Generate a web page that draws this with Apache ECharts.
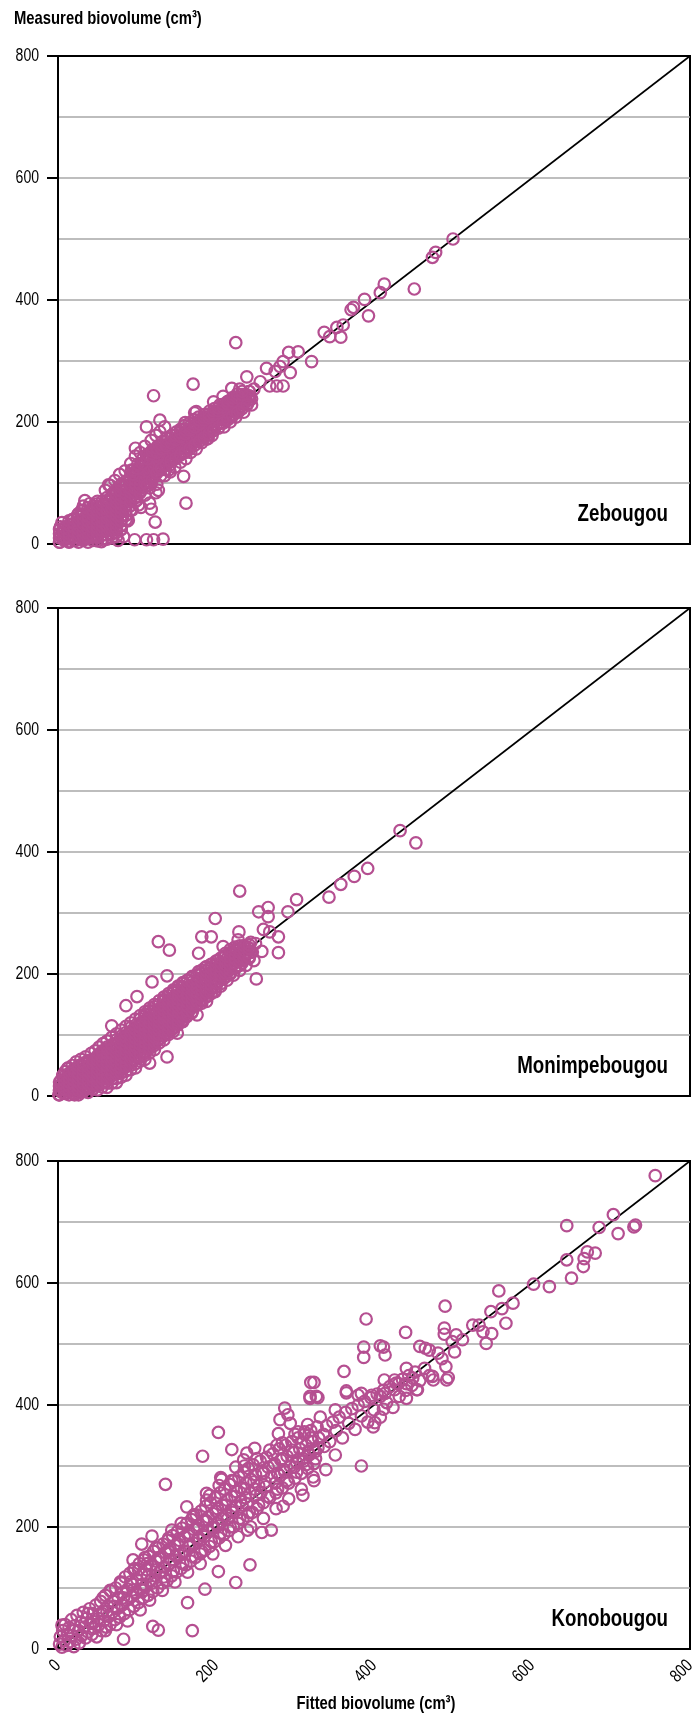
<!DOCTYPE html>
<html>
<head>
<meta charset="utf-8">
<script src="https://cdn.jsdelivr.net/npm/echarts@6/dist/echarts.min.js"></script>
<style>
  html, body { margin: 0; padding: 0; background: #fff; }
  #chart { width: 697px; height: 1715px; }
</style>
</head>
<body>
<div id="chart"></div>
<script>
// Site names, one panel each (top to bottom)
const sites = ['Zebougou', 'Monimpebougou', 'Konobougou'];
// Shared axis range and tick labels (cm³)
const axisTicks = [0, 200, 400, 600, 800];
// 1:1 reference line
const oneToOne = [[0, 0], [800, 800]];

// ---- Zebougou ----
// dense trees near the origin: each row is [fitted, measured, measured, ...]
const zebougouDense = [
  [2,3,10,17,24],[8,6,13,20,27],[14,3,10,17,24,31,38],[20,6,13,20,27,34,41],[26,3,10,17,24,31,38,45,50],
  [32,6,13,20,27,34,41,48,55],[38,3,10,17,24,31,38,45,52,59],[44,6,13,20,27,34,41,48,55,62],
  [50,5,12,19,26,33,40,47,54,61,66],[56,8,15,22,29,36,43,50,57,64,70],[62,8,15,22,29,36,43,50,57,64,71,76],
  [68,10,17,24,31,38,45,52,59,66,73,80],[74,12,19,26,33,40,47,54,61,68,75,82,89],[80,24,31,38,45,52,59,66,73,80,87,94,98],
  [86,40,47,54,61,68,75,82,89,96,103],[92,56,63,70,77,84,91,98,105,110],[98,70,77,84,91,98,105,112,118],
  [104,84,91,98,105,112,119,126],[110,94,101,108,115,122,129,134],[116,102,109,116,123,130,137,140],
  [122,112,119,126,133,140,146],[128,122,129,136,143,150],[134,130,137,144,151,156],[140,136,143,150,157,162],
  [146,142,149,156,163,166],[152,148,155,162,169,172],[158,152,159,166,173,176],[164,158,165,172,179],
  [170,164,171,178,185],[176,170,177,184,190],[182,176,183,190,196],[188,182,189,196,200],[194,188,195,202,206],
  [200,194,201,208,212],[206,198,205,212,216],[212,204,211,218,222],[218,210,217,224,228],[224,218,225,232],
  [230,224,231,238],[236,230,237,244],[242,236,243,250],
  [95,114,121],[101,124,131],[107,132,139],[113,96,140,147],[119,104,148,153],[125,116,150,157],[131,124,156,163],
  [137,130,161,168],[143,136,166,173],[149,140,171,178],[155,146,176,183],[161,150,181,188],[167,156,187,193],
  [173,162,192,198],[179,168,197,203],[185,174,203,208],[191,180,207,213],[197,186,212,218],[203,190,218,223],
  [209,198,224,229],[215,204,229,234],[221,210,234,240],[227,216,240,246],[233,222,245,250],[239,228]
];
// individual trees, [fitted, measured]
const zebougou = [
  [2,3],[4,12],[6,20],[3,28],[8,8],[10,16],[12,24],[5,35],[14,4],[15,32],[16,12],[18,40],[20,20],[22,6],[24,30],[25,48],
  [26,14],[28,38],[30,55],[30,24],[32,62],[33,8],[35,44],[36,18],[38,30],[40,52],[40,66],[42,10],[43,36],[45,24],[46,58],
  [48,44],[50,14],[50,70],[52,32],[54,54],[55,4],[56,22],[58,64],[60,40],[60,8],[62,50],[64,28],[65,72],[66,60],[68,16],
  [70,44],[70,84],[72,34],[74,66],[75,54],[76,6],[78,88],[80,74],[80,24],[82,46],[84,96],[85,62],[86,80],[88,38],[90,70],
  [90,102],[92,90],[94,56],[95,84],[96,110],[98,76],[100,96],[100,120],[102,64],[104,104],[105,88],[106,128],[108,114],
  [110,80],[110,136],[112,100],[114,122],[115,146],[116,92],[118,132],[120,110],[120,152],[122,140],[124,118],[125,98],
  [126,160],[128,130],[130,146],[130,112],[132,168],[134,136],[135,154],[136,122],[138,174],[140,142],[140,160],[142,130],
  [144,178],[145,150],[146,166],[148,140],[150,184],[150,156],[152,170],[154,146],[155,188],[156,162],[158,176],[160,150],
  [160,194],[162,168],[164,182],[165,158],[166,198],[168,174],[170,188],[170,164],[172,204],[174,180],[175,194],[176,170],
  [178,208],[180,186],[182,200],[184,176],[185,212],[186,194],[188,206],[190,184],[192,218],[194,200],[195,212],[196,190],
  [198,222],[200,206],[202,216],[204,198],[205,228],[208,212],[210,222],[212,204],[214,232],[215,218],[218,226],[220,212],
  [222,236],[224,222],[226,230],[228,216],[230,240],[232,226],[235,234],[238,244],[240,230],[242,250],[245,238],[248,254],
  [100,72],[105,60],[118,100],[124,84],[135,112],[142,118],[148,126],[155,134],[162,140],[168,150],[175,156],[182,166],
  [188,172],[195,178],[210,192],[218,200],[225,208],[235,216],[245,228],[60,88],[66,96],[72,104],[78,114],[85,120],
  [92,132],[98,144],[104,150],[110,160],[118,170],[124,178],
  [500,500],[478,478],[474,470],[451,418],[413,426],[408,412],[388,401],[393,374],[374,388],[371,384],[361,359],[353,355],
  [358,339],[344,340],[337,347],[321,299],[304,315],[292,314],[294,281],[285,259],[277,259],[268,259],[285,299],[281,291],
  [264,288],[275,283],[256,266],[239,274],[225,330],[230,254],[220,255],[243,242],[209,242],[197,233],[171,262],[121,243],
  [173,215],[161,199],[129,203],[112,192],[98,157],[93,121],[64,97],[34,71],[159,111],[162,67],[123,36],[127,88],[116,67],
  [118,57],[133,8],[121,7],[112,7],[97,7],[83,12],[89,39],[7,23],[19,28],[140,121],[135,192],[129,184],[157,187],[175,217],
  [188,184],[190,173]
];

// ---- Monimpebougou ----
const monimpebougouDense = [
  [2,2,9,16,23],[8,5,12,19,26,32],[14,2,9,16,23,30,37],[20,5,12,19,26,33,40,44],[26,2,9,16,23,30,37,44,50],
  [32,7,14,21,28,35,42,49,54],[38,6,13,20,27,34,41,48,55,58],[44,11,18,25,32,39,46,53,60],
  [50,10,17,24,31,38,45,52,59,66],[56,15,22,29,36,43,50,57,64,71,74],[62,14,21,28,35,42,49,56,63,70,77,80],
  [68,21,28,35,42,49,56,63,70,77,84],[74,22,29,36,43,50,57,64,71,78,85,92],[80,31,38,45,52,59,66,73,80,87,94,98],
  [86,34,41,48,55,62,69,76,83,90,97,104],[92,43,50,57,64,71,78,85,92,99,106,112],
  [98,46,53,60,67,74,81,88,95,102,109,116],[104,57,64,71,78,85,92,99,106,113,120,126],
  [110,60,67,74,81,88,95,102,109,116,123,130,134],[116,71,78,85,92,99,106,113,120,127,134,140],
  [122,76,83,90,97,104,111,118,125,132,139,146],[128,87,94,101,108,115,122,129,136,143,150],
  [134,92,99,106,113,120,127,134,141,148,155,158],[140,101,108,115,122,129,136,143,150,157,164],
  [146,106,113,120,127,134,141,148,155,162,169,172],[152,117,124,131,138,145,152,159,166,173,178],
  [158,122,129,136,143,150,157,164,171,178,184],[164,133,140,147,154,161,168,175,182,189],
  [170,138,145,152,159,166,173,180,187,194],[176,149,156,163,170,177,184,191,198],
  [182,152,159,166,173,180,187,194,201,206],[188,163,170,177,184,191,198,205,212],
  [194,168,175,182,189,196,203,210,216],[200,179,186,193,200,207,214,221],[206,184,191,198,205,212,219,226],
  [212,195,202,209,216,223,230,234],[218,200,207,214,221,228,235,240],[224,211,218,225,232,239,244],
  [230,214,221,228,235,242,246],[236,225,232,239,246],[242,228,235,242,248]
];
const monimpebougou = [
  [1,2],[2,10],[3,18],[4,26],[5,6],[6,34],[7,14],[8,22],[9,40],[10,4],[11,30],[12,12],[13,46],[14,20],[15,36],[16,8],
  [17,26],[18,50],[19,16],[20,42],[21,2],[22,32],[23,56],[24,12],[25,24],[26,44],[27,6],[28,36],[29,60],[30,18],[31,50],
  [32,28],[33,10],[34,42],[35,64],[36,22],[37,54],[38,34],[39,14],[40,46],
  [42,70],[43,26],[44,58],[45,38],[46,16],[47,74],[48,50],[49,30],[50,62],[51,20],[52,80],[53,42],[54,68],[55,28],[56,54],
  [57,86],[58,36],[59,72],[60,46],[61,24],[62,90],[63,60],[64,38],[65,78],[66,52],[67,32],[68,96],[69,66],[70,44],[71,84],
  [72,58],[73,36],[74,102],[75,72],[76,50],[77,90],[78,64],[79,42],[80,108],[81,78],[82,56],[83,96],[84,70],[85,48],
  [86,114],[87,84],[88,62],[89,102],[90,76],[91,54],[92,120],[93,92],[94,68],[95,108],[96,82],[97,60],[98,126],[99,98],
  [100,74],
  [101,114],[102,88],[103,66],[104,132],[105,104],[106,80],[107,120],[108,94],[109,72],[110,138],[111,110],[112,86],
  [113,126],[114,100],[115,80],[116,144],[117,116],[118,92],[119,132],[120,106],[121,86],[122,150],[123,122],[124,98],
  [125,138],[126,112],[127,92],[128,156],[129,128],[130,104],[131,144],[132,118],[133,98],[134,162],[135,134],[136,110],
  [137,150],[138,124],[139,104],[140,168],[141,140],[142,116],[143,156],[144,130],[145,110],[146,174],[147,146],[148,122],
  [149,162],[150,136],[151,118],[152,180],[153,152],[154,128],[155,168],[156,142],[157,124],[158,186],[159,158],[160,134],
  [161,174],[162,148],[163,130],[164,190],[165,164],[166,140],[167,180],[168,154],[169,136],[170,196],
  [172,170],[174,148],[175,186],[177,160],[178,204],[180,176],[182,156],[183,194],[185,168],[186,210],[188,184],[190,164],
  [191,200],[193,176],[194,216],[196,192],[198,172],[199,206],[201,184],[202,222],[204,198],[206,180],[207,212],[209,192],
  [210,228],[212,206],[214,190],[215,220],[217,200],[218,234],[220,214],[222,198],[223,228],[225,210],[226,240],[228,222],
  [230,206],[231,236],[233,218],[235,246],[237,230],[238,214],[240,244],[242,226],[244,252],[246,236],[248,222],[250,250],
  [433,435],[453,415],[392,373],[375,360],[358,347],[343,326],[302,322],[291,302],[230,336],[266,309],[254,302],[266,294],
  [260,273],[268,269],[279,261],[258,237],[279,235],[251,192],[229,269],[199,291],[182,261],[194,261],[127,253],[141,239],
  [178,234],[119,187],[138,197],[100,163],[86,148],[68,115],[12,45],[138,64],[176,133],[151,103],[199,171],[188,155],
  [116,54],[209,245],[228,256]
];

// ---- Konobougou ----
const konobougou = [
  [2,8],[3,20],[5,3],[6,30],[8,14],[9,40],[11,6],[12,24],[14,35],[15,12],[17,48],[18,22],[20,4],[21,38],[23,16],[24,55],
  [26,30],[27,10],[29,44],[30,22],[32,60],[33,36],[35,18],[36,50],[38,28],[40,66],[41,42],[43,24],[44,58],[46,34],[48,72],
  [49,20],[51,50],[52,40],[54,78],[55,30],[57,62],[58,46],[60,88],[61,36],[63,70],[64,54],[66,40],[67,95],[69,60],[70,78],
  [72,48],[73,100],[75,66],[76,84],[78,52],[79,110],[81,72],[82,92],[84,58],[85,118],[87,80],[88,98],[90,64],[91,124],
  [93,86],[94,106],[96,70],[97,132],[99,92],[100,114],[102,76],[103,140],[105,98],[106,122],[108,84],[109,146],[111,104],
  [112,130],[114,88],[115,152],[117,112],[118,138],[120,94],[121,160],[123,120],[124,144],[126,100],[127,166],[129,126],
  [130,150],[132,108],[133,172],[135,134],[136,158],[138,112],[139,178],[141,140],[142,164],[144,120],[145,186],[147,146],
  [148,170],[150,126],[151,192],[153,154],[154,178],[156,132],[157,198],[159,160],[160,184],[162,138],[163,206],[165,168],
  [166,190],[168,144],[169,212],[171,174],[172,196],[174,150],[175,220],[177,180],[178,202],[180,156],[181,226],[183,188],
  [184,210],[186,162],[187,234],[189,194],[190,216],[192,168],[193,240],[195,200],[196,222],[198,176],[199,248],[201,206],
  [202,230],[204,182],[205,256],[207,214],[208,236],[210,188],[211,262],[213,220],[214,244],[216,194],[217,270],[219,228],
  [220,250],[222,200],[223,276],[225,234],[226,258],[228,206],[229,282],[231,242],[232,264],[234,212],[235,290],[237,248],
  [238,272],[240,218],[241,296],[243,256],[244,278],[246,224],[247,302],[249,262],[250,286],[252,230],[254,268],[256,308],
  [258,292],[260,240],[262,274],[264,314],[266,298],[268,248],[270,282],[272,320],[274,304],[276,256],[278,288],[280,328],
  [282,310],[284,264],[286,294],[288,334],[290,316],[292,272],[294,300],[296,340],[298,322],[300,280],[302,306],[304,346],
  [306,328],[308,288],[310,312],[312,352],[314,334],[316,296],[318,318],[320,358],[322,340],[324,304],[326,324],[328,364],
  [330,346],
  [60,30],[66,96],[74,40],[80,108],[88,46],[96,130],[104,64],[110,150],[116,80],[124,166],[132,96],[140,182],[148,110],
  [156,206],[164,126],[172,220],[180,140],[188,244],[196,156],[204,268],[212,170],[220,276],[228,184],[236,300],[244,200],
  [252,312],[260,214],[268,326],[276,230],[284,338],[292,246],[300,352],[308,262],[316,368],[324,276],[332,380],
  [45,45],[56,58],[62,62],[71,70],[83,84],[95,97],[107,106],[113,118],[125,130],[131,128],[143,146],[149,152],[161,160],
  [167,170],[179,182],[185,184],[197,198],[203,202],[215,214],[221,224],[233,236],[239,238],[251,252],[257,256],[263,266],
  [275,272],[281,284],[287,290],[299,298],[305,310],[311,308],[317,322],[323,326],[329,330],
  [102,130],[108,96],[113,140],[119,108],[127,150],[134,118],[140,160],[146,128],[152,172],[158,140],[165,186],[170,152],
  [176,198],[182,160],[188,210],[194,176],[200,226],[206,190],[212,236],[218,200],[224,250],[230,214],[236,262],[242,224],
  [248,274],[254,236],[260,288],[266,250],[272,300],[278,262],[284,312],[290,276],[296,326],[302,290],[308,338],[314,302],
  [320,346],[326,312],
  [336,352],[340,366],[344,340],[348,372],[352,358],[356,380],[360,346],[364,388],[368,370],[372,394],[376,360],[380,400],
  [384,382],[388,406],[392,372],[396,412],[400,392],[404,418],[408,380],[412,424],[416,404],[420,430],[424,396],[428,436],
  [432,414],[436,442],[440,424],[444,448],[448,432],[452,454],[458,440],[464,460],[470,448],
  [756,776],[703,712],[731,695],[729,692],[685,691],[709,681],[644,694],[670,651],[680,649],[666,640],[665,627],[644,638],
  [650,608],[602,598],[622,594],[558,587],[576,567],[562,558],[548,553],[567,534],[549,517],[542,501],[538,520],[525,531],
  [533,531],[490,562],[489,526],[489,516],[504,515],[512,507],[499,504],[502,487],[486,476],[491,463],[494,445],[474,447],
  [458,496],[465,493],[470,490],[481,485],[440,519],[441,460],[390,541],[387,495],[387,478],[408,497],[412,495],[414,482],
  [362,455],[365,423],[324,437],[320,437],[319,414],[327,414],[384,419],[397,416],[413,441],[414,419],[426,441],[431,435],
  [441,435],[449,444],[454,425],[426,425],[408,414],
  [319,411],[329,412],[287,395],[291,384],[281,376],[294,370],[304,356],[312,356],[279,353],[277,334],[203,355],[220,327],
  [183,316],[239,321],[249,329],[235,310],[225,298],[206,281],[207,278],[136,270],[188,255],[192,252],[163,233],[171,217],
  [144,195],[119,185],[106,172],[95,146],[92,110],[57,84],[38,58],[5,39],[203,127],[243,138],[225,109],[186,98],[164,76],
  [170,30],[127,31],[83,16],[120,37],[258,191],[270,195],[240,195],[285,234],[310,252],[323,282],[339,294],[384,300],
  [399,364],[401,371],[365,420],[380,416],[412,393],[441,411],[455,425],[492,441],[475,441],[351,392],[351,318],[337,332]
];

// expand [fitted, m1, m2, ...] rows into [fitted, measured] pairs
function expandRows(rows) {
  const out = [];
  rows.forEach(r => { for (let k = 1; k < r.length; k++) out.push([r[0], r[k]]); });
  return out;
}

const siteData = [
  zebougou.concat(expandRows(zebougouDense)),
  monimpebougou.concat(expandRows(monimpebougouDense)),
  konobougou
];

const FONT = "'Liberation Sans', Arial, sans-serif";
const NARROW = 0.78;           // horizontal squeeze giving a condensed face
const MARK = '#B54F91';
const GRID_GRAY = '#A8A8A8';

const panelLeft = 58, panelWidth = 632, panelHeight = 488;
const panelTops = [56, 608, 1161];

const grids = [], xAxes = [], yAxes = [], series = [];

panelTops.forEach((top, i) => {
  grids.push({
    left: panelLeft, top: top, width: panelWidth, height: panelHeight,
    show: true, borderColor: '#000', borderWidth: 2, backgroundColor: 'transparent',
    containLabel: false, outerBoundsMode: 'none'
  });
  xAxes.push({
    gridIndex: i, type: 'value',
    min: axisTicks[0], max: axisTicks[axisTicks.length - 1], interval: axisTicks[1] - axisTicks[0],
    axisLine: { show: true, onZero: false, lineStyle: { color: '#000', width: 2 } },
    axisTick: { show: false },
    splitLine: { show: false },
    axisLabel: { show: false }
  });
  yAxes.push({
    gridIndex: i, type: 'value',
    min: axisTicks[0], max: axisTicks[axisTicks.length - 1], interval: axisTicks[1] - axisTicks[0],
    axisLine: { show: true, onZero: false, lineStyle: { color: '#000', width: 2 } },
    axisTick: { show: true, inside: false, length: 11, lineStyle: { color: '#000', width: 2 } },
    axisLabel: { show: false },
    splitLine: { show: true, showMinLine: false, showMaxLine: false, lineStyle: { color: GRID_GRAY, width: 1.5 } },
    minorTick: { show: false, splitNumber: 2 },
    minorSplitLine: { show: true, lineStyle: { color: GRID_GRAY, width: 1.5 } }
  });
  series.push({
    type: 'line', xAxisIndex: i, yAxisIndex: i, data: oneToOne,
    showSymbol: false, symbol: 'none', silent: true, z: 1,
    lineStyle: { color: '#000', width: 1.6 }
  });
  series.push({
    type: 'scatter', name: sites[i], xAxisIndex: i, yAxisIndex: i, data: siteData[i],
    symbol: 'circle', symbolSize: 11.5, z: 2,
    itemStyle: { color: 'rgba(0,0,0,0)', borderColor: MARK, borderWidth: 2.2, opacity: 1 }
  });
});

const chart = echarts.init(document.getElementById('chart'), null, { renderer: 'canvas' });
chart.setOption({
  animation: false,
  backgroundColor: '#fff',
  grid: grids,
  xAxis: xAxes,
  yAxis: yAxes,
  series: series
});

// condensed text element
function label(x, y, text, size, bold, align, rotation) {
  return {
    type: 'text', x: x, y: y, scaleX: NARROW, rotation: rotation || 0, silent: true,
    style: { text: text, font: `${bold ? 'bold ' : ''}${size}px ${FONT}`, fill: '#000', align: align, verticalAlign: 'middle' }
  };
}

const graphics = [];
panelTops.forEach((top, i) => {
  // y tick labels placed through the panel's own scale
  axisTicks.forEach(v => {
    const p = chart.convertToPixel({ gridIndex: i }, [0, v]);
    graphics.push(label(p[0] - 19, p[1], String(v), 18, false, 'right'));
  });
  // site name
  graphics.push(label(668, top + panelHeight - 30, sites[i], 24, true, 'right'));
});
// x tick labels under the bottom panel, slanted
axisTicks.forEach(v => {
  const p = chart.convertToPixel({ gridIndex: 2 }, [v, 0]);
  graphics.push(label(p[0], p[1] + 14, String(v), 18, false, 'right', Math.PI / 4));
});
graphics.push(label(14, 19, 'Measured biovolume (cm³)', 19, true, 'left'));
graphics.push(label(376, 1704, 'Fitted biovolume (cm³)', 19, true, 'center'));

chart.setOption({ graphic: graphics });
</script>
</body>
</html>
